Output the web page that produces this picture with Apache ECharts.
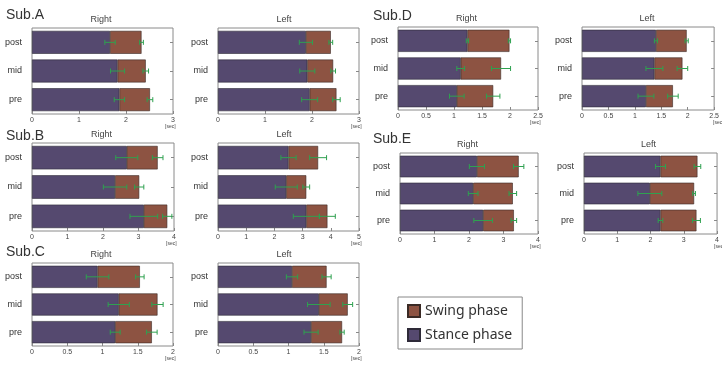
<!DOCTYPE html>
<html>
<head>
<meta charset="utf-8">
<script src="https://cdn.jsdelivr.net/npm/echarts@6/dist/echarts.min.js"></script>
<style>
  html, body { margin: 0; padding: 0; background: #fff; }
  #chart { width: 722px; height: 365px; }
</style>
</head>
<body>
<div id="chart"></div>
<script>
// categories, bottom to top
var phases = ["pre", "mid", "post"];

// Sub.A
var aRightStance = [1.86, 1.82, 1.66];
var aRightSwing = [0.65, 0.60, 0.67];
var aRightStanceSd = [0.11, 0.15, 0.11];
var aRightSwingSd = [0.06, 0.06, 0.04];
var aLeftStance = [1.95, 1.90, 1.87];
var aLeftSwing = [0.57, 0.55, 0.53];
var aLeftStanceSd = [0.17, 0.16, 0.14];
var aLeftSwingSd = [0.08, 0.05, 0.04];

// Sub.B
var bRightStance = [3.15, 2.34, 2.67];
var bRightSwing = [0.66, 0.68, 0.87];
var bRightStanceSd = [0.39, 0.33, 0.31];
var bRightSwingSd = [0.13, 0.13, 0.15];
var bLeftStance = [3.13, 2.42, 2.50];
var bLeftSwing = [0.75, 0.71, 1.05];
var bLeftStanceSd = [0.46, 0.39, 0.27];
var bLeftSwingSd = [0.28, 0.12, 0.30];

// Sub.C
var cRightStance = [1.18, 1.23, 0.93];
var cRightSwing = [0.52, 0.55, 0.60];
var cRightStanceSd = [0.07, 0.15, 0.16];
var cRightSwingSd = [0.075, 0.08, 0.06];
var cLeftStance = [1.32, 1.43, 1.05];
var cLeftSwing = [0.44, 0.41, 0.49];
var cLeftStanceSd = [0.10, 0.16, 0.08];
var cLeftSwingSd = [0.03, 0.07, 0.065];

// Sub.D
var dRightStance = [1.05, 1.12, 1.24];
var dRightSwing = [0.65, 0.72, 0.75];
var dRightStanceSd = [0.13, 0.07, 0.02];
var dRightSwingSd = [0.12, 0.17, 0.02];
var dLeftStance = [1.21, 1.37, 1.40];
var dLeftSwing = [0.51, 0.53, 0.58];
var dLeftStanceSd = [0.15, 0.16, 0.03];
var dLeftSwingSd = [0.10, 0.10, 0.03];

// Sub.E
var eRightStance = [2.41, 2.12, 2.23];
var eRightSwing = [0.89, 1.15, 1.21];
var eRightStanceSd = [0.27, 0.14, 0.22];
var eRightSwingSd = [0.08, 0.11, 0.15];
var eLeftStance = [2.30, 1.98, 2.30];
var eLeftSwing = [1.08, 1.33, 1.11];
var eLeftStanceSd = [0.07, 0.36, 0.15];
var eLeftSwingSd = [0.12, 0.04, 0.10];

var stanceColor = "#55496f";
var swingColor = "#8d5342";
var errColor = "#2fa150";
var font = "Liberation Sans";

// layout of each small chart: [left, top, width, height]
var panels = [
  { sub: "Sub.A", side: "Right", max: 3, interval: 1, box: [32, 28, 141, 86], subPos: [6, 16],
    stance: aRightStance, swing: aRightSwing, stanceSd: aRightStanceSd, swingSd: aRightSwingSd },
  { side: "Left", max: 3, interval: 1, box: [218, 28, 141, 86],
    stance: aLeftStance, swing: aLeftSwing, stanceSd: aLeftStanceSd, swingSd: aLeftSwingSd },
  { sub: "Sub.B", side: "Right", max: 4, interval: 1, box: [32, 143, 142, 88], subPos: [6, 137],
    stance: bRightStance, swing: bRightSwing, stanceSd: bRightStanceSd, swingSd: bRightSwingSd },
  { side: "Left", max: 5, interval: 1, box: [218, 143, 141, 88],
    stance: bLeftStance, swing: bLeftSwing, stanceSd: bLeftStanceSd, swingSd: bLeftSwingSd },
  { sub: "Sub.C", side: "Right", max: 2, interval: 0.5, box: [32, 263, 141, 83], subPos: [6, 253],
    stance: cRightStance, swing: cRightSwing, stanceSd: cRightStanceSd, swingSd: cRightSwingSd },
  { side: "Left", max: 2, interval: 0.5, box: [218, 263, 141, 83],
    stance: cLeftStance, swing: cLeftSwing, stanceSd: cLeftStanceSd, swingSd: cLeftSwingSd },
  { sub: "Sub.D", side: "Right", max: 2.5, interval: 0.5, box: [398, 27, 140, 83], subPos: [373, 17],
    stance: dRightStance, swing: dRightSwing, stanceSd: dRightStanceSd, swingSd: dRightSwingSd },
  { side: "Left", max: 2.5, interval: 0.5, box: [582, 27, 139, 83],
    stance: dLeftStance, swing: dLeftSwing, stanceSd: dLeftStanceSd, swingSd: dLeftSwingSd },
  { sub: "Sub.E", side: "Right", max: 4, interval: 1, box: [400, 153, 138, 81], subPos: [373, 140],
    stance: eRightStance, swing: eRightSwing, stanceSd: eRightStanceSd, swingSd: eRightSwingSd },
  { side: "Left", max: 4, interval: 1, box: [584, 153, 138, 81],
    stance: eLeftStance, swing: eLeftSwing, stanceSd: eLeftStanceSd, swingSd: eLeftSwingSd }
];

function renderError(params, api) {
  var x = api.value(0), y = api.value(1), sd = api.value(2);
  var lo = api.coord([x - sd, y]);
  var hi = api.coord([x + sd, y]);
  var h = 2.5;
  var st = { stroke: errColor, lineWidth: 1 };
  return {
    type: "group",
    children: [
      { type: "line", shape: { x1: lo[0], y1: lo[1], x2: hi[0], y2: hi[1] }, style: st },
      { type: "line", shape: { x1: lo[0], y1: lo[1] - h, x2: lo[0], y2: lo[1] + h }, style: st },
      { type: "line", shape: { x1: hi[0], y1: hi[1] - h, x2: hi[0], y2: hi[1] + h }, style: st }
    ]
  };
}

var grids = [], xAxes = [], yAxes = [], series = [], graphics = [];

panels.forEach(function (p, i) {
  var b = p.box;
  grids.push({
    left: b[0], top: b[1], width: b[2], height: b[3],
    show: true, borderColor: "#8a8a8a", borderWidth: 1, backgroundColor: "#fff"
  });
  xAxes.push({
    type: "value", gridIndex: i, min: 0, max: p.max, interval: p.interval,
    splitLine: { show: false },
    axisLine: { show: false },
    axisTick: { show: true, inside: true, length: 3, lineStyle: { color: "#888" } },
    axisLabel: { fontSize: 7, color: "#444", margin: 3, fontFamily: font }
  });
  yAxes.push({
    type: "category", gridIndex: i, data: phases,
    axisLine: { show: false }, axisTick: { show: false },
    axisLabel: { fontSize: 9, color: "#333", margin: 10, fontFamily: font }
  });
  yAxes.push({
    type: "category", gridIndex: i, data: phases, position: "right",
    axisLine: { show: false },
    axisTick: { show: true, inside: true, length: 3, alignWithLabel: true, lineStyle: { color: "#888" } },
    axisLabel: { show: false }
  });

  var total = p.stance.map(function (v, k) { return v + p.swing[k]; });
  var errData = [];
  p.stance.forEach(function (v, k) { errData.push([v, k, p.stanceSd[k]]); });
  total.forEach(function (v, k) { errData.push([v, k, p.swingSd[k]]); });

  series.push({
    name: "Stance phase", type: "bar", stack: "s" + i,
    xAxisIndex: i, yAxisIndex: i * 2, data: p.stance, barCategoryGap: "20%",
    itemStyle: { color: stanceColor, borderColor: "#2e2a38", borderWidth: 0.6 }
  });
  series.push({
    name: "Swing phase", type: "bar", stack: "s" + i,
    xAxisIndex: i, yAxisIndex: i * 2, data: p.swing, barCategoryGap: "20%",
    itemStyle: { color: swingColor, borderColor: "#3a2a25", borderWidth: 0.6 }
  });
  series.push({
    type: "custom", xAxisIndex: i, yAxisIndex: i * 2, z: 5,
    renderItem: renderError, encode: { x: 0, y: 1 }, data: errData
  });

  graphics.push({
    type: "text", left: b[0] + b[2] / 2 - 12, top: b[1] - 13,
    style: { text: p.side, fontSize: 9, fill: "#444", fontFamily: font, width: 24, align: "center" }
  });
  graphics.push({
    type: "text", left: b[0] + b[2] - 8, top: b[1] + b[3] + 10,
    style: { text: "[sec]", fontSize: 5, fill: "#444", fontFamily: font }
  });
  if (p.sub) {
    graphics.push({
      type: "text", left: p.subPos[0], top: p.subPos[1] - 8,
      style: { text: p.sub, fontSize: 14, fill: "#333", fontFamily: font }
    });
  }
});

var chart = echarts.init(document.getElementById("chart"));
chart.setOption({
  animation: false,
  grid: grids,
  xAxis: xAxes,
  yAxis: yAxes,
  series: series,
  graphic: graphics,
  legend: {
    data: ["Swing phase", "Stance phase"],
    orient: "vertical",
    left: 398, top: 297,
    padding: [7, 10, 7, 9],
    itemGap: 10,
    itemWidth: 12, itemHeight: 12,
    icon: "rect",
    borderColor: "#888", borderWidth: 1,
    textStyle: { fontSize: 14, color: "#333", fontFamily: "Noto Sans" }
  }
});
</script>
</body>
</html>
